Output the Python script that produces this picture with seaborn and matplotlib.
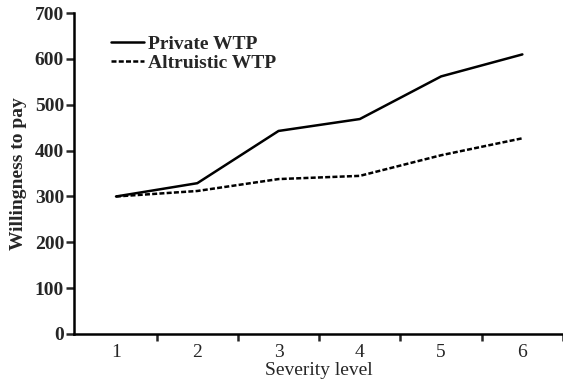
import pandas as pd
import seaborn as sns
import matplotlib.pyplot as plt

severity = [1, 2, 3, 4, 5, 6]
private_wtp = [300, 329, 443, 469, 562, 610]
altruistic_wtp = [300, 312, 338, 345, 390, 427]

df = pd.DataFrame({
    'Severity level': severity * 2,
    'Willingness to pay': private_wtp + altruistic_wtp,
    'Series': ['Private WTP'] * 6 + ['Altruistic WTP'] * 6,
})

sns.set_style('ticks')
plt.rcParams['font.family'] = ['Liberation Serif', 'DejaVu Serif']

fig = plt.figure(figsize=(5.63, 3.87), dpi=100)
ax = fig.add_axes([0.131, 0.137, 0.869, 0.829])
sns.lineplot(data=df, x='Severity level', y='Willingness to pay', style='Series',
             color='black', linewidth=1.8, dashes=['', (2.0, 0.9)], ax=ax)

ax.set_xlim(0.48, 6.45)
ax.set_ylim(0, 700)
ax.set_yticks(range(0, 701, 100))
ax.set_xticks([x + 0.5 for x in range(1, 7)])
ax.set_xticks(severity, minor=True)
ax.set_xticklabels([])
ax.set_xticklabels([str(s) for s in severity], minor=True, fontsize=14)
ax.tick_params(axis='x', which='major', length=5, width=1.8, direction='out')
ax.tick_params(axis='x', which='minor', length=0, pad=7)
ax.tick_params(axis='y', length=6, width=1.8, labelsize=14, pad=1)
for lab in ax.get_yticklabels():
    lab.set_fontweight('bold')
for side in ['top', 'right']:
    ax.spines[side].set_visible(False)
for side in ['left', 'bottom']:
    ax.spines[side].set_linewidth(1.8)
    ax.spines[side].set_color('black')

ax.set_xlabel('Severity level', fontsize=14, labelpad=1)
ax.set_ylabel('Willingness to pay', fontsize=14, fontweight='bold')
ax.yaxis.set_label_coords(-0.096, 0.5)

leg = ax.legend(loc='upper left', bbox_to_anchor=(0.04, 0.985), frameon=False,
                handlelength=1.7, handletextpad=0.2, labelspacing=0.05,
                prop={'size': 14, 'weight': 'bold'})

fig.savefig('out.png', dpi=100)
